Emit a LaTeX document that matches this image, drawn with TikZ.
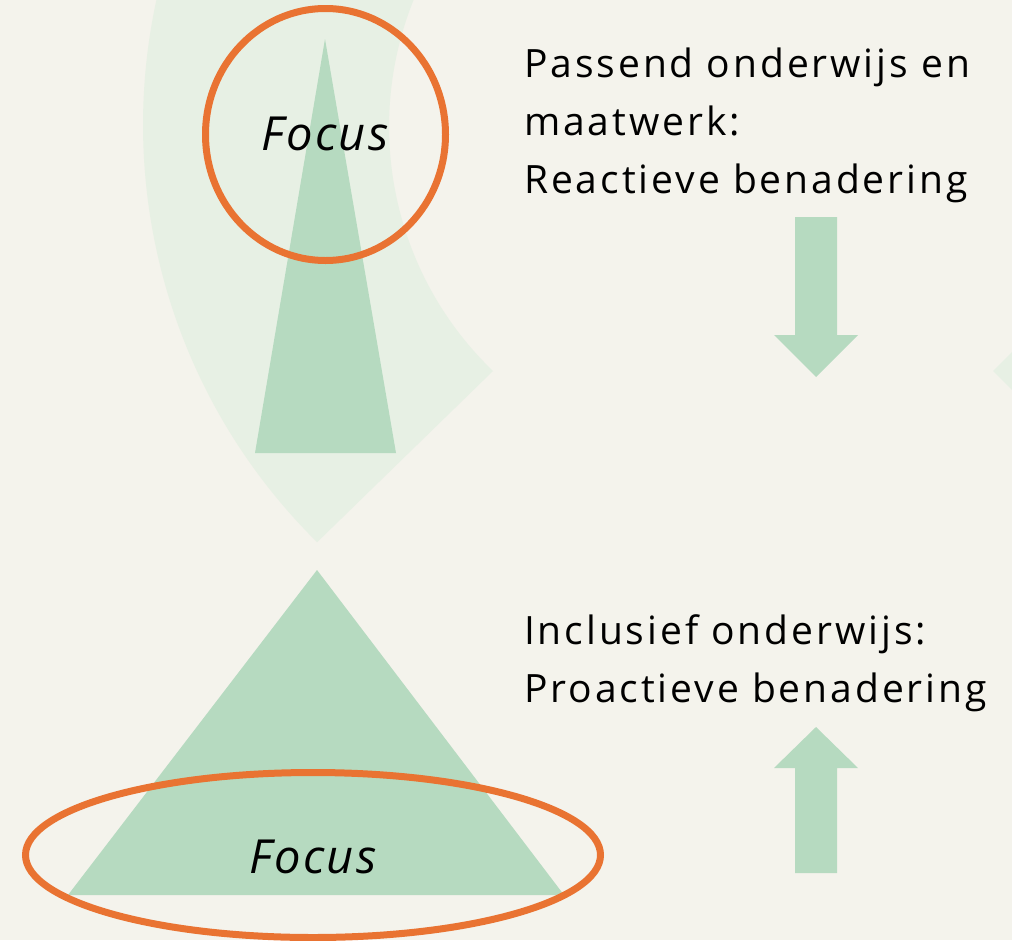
\documentclass[tikz,border=0pt]{standalone}
\usepackage{fontspec}
\setmainfont[Ligatures=NoCommon]{Open Sans}
\newfontfamily\bodyfont[Ligatures=NoCommon,LetterSpace=7.5]{Open Sans}
\newfontfamily\focusfont[Ligatures=NoCommon,LetterSpace=5]{Open Sans Italic}
\definecolor{bg}{RGB}{244,243,236}
\definecolor{pale}{RGB}{231,240,228}
\definecolor{mid}{RGB}{182,218,192}
\definecolor{orng}{RGB}{233,115,50}
\begin{document}
\begin{tikzpicture}[x=1pt,y=1pt,
  body/.style={anchor=base west, inner sep=0pt, align=left, font=\fontsize{39}{58}\bodyfont},
  focustxt/.style={anchor=base, inner sep=0pt, font=\fontsize{47}{50}\focusfont},
  ring/.style={draw=orng, line width=7pt}]
\useasboundingbox (0,0) rectangle (1012,-940);
\clip (0,0) rectangle (1012,-940);
\fill[bg] (0,0) rectangle (1012,-940);
% pale background arcs
\fill[pale] (730,-125) ++(140:587) arc[start angle=140,end angle=225.3,radius=587]
  -- (493,-371) arc[start angle=226.1,end angle=140,radius=339] -- cycle;
\fill[pale] (993,-371) -- (1060,-304) -- (1060,-438) -- cycle;
% top narrow triangle
\fill[mid] (325,-39) -- (396,-453) -- (255,-453) -- cycle;
\draw[ring] (325.5,-134.5) ellipse[x radius=120, y radius=126];
\node[focustxt] (f1) at (325,-150) {Focus};
% bottom triangle
\fill[mid] (317,-570) -- (564,-895) -- (68,-895) -- cycle;
\draw[ring] (313,-855) ellipse[x radius=287.5, y radius=82.5];
\node[focustxt] (f2) at (313,-873) {Focus};
% arrows
\fill[mid] (795,-217) -- (837,-217) -- (837,-335) -- (858,-335) -- (816,-377) -- (774,-335) -- (795,-335) -- cycle;
\fill[mid] (816,-727) -- (858,-768) -- (837,-768) -- (837,-873) -- (795,-873) -- (795,-768) -- (774,-768) -- cycle;
% texts
\node[body] (t1) at (524,-193) {Passend onderwijs en\\maatwerk:\\Reactieve benadering};
\node[body] (t2) at (524,-702) {Inclusief onderwijs:\\Proactieve benadering};
\end{tikzpicture}
\end{document}
